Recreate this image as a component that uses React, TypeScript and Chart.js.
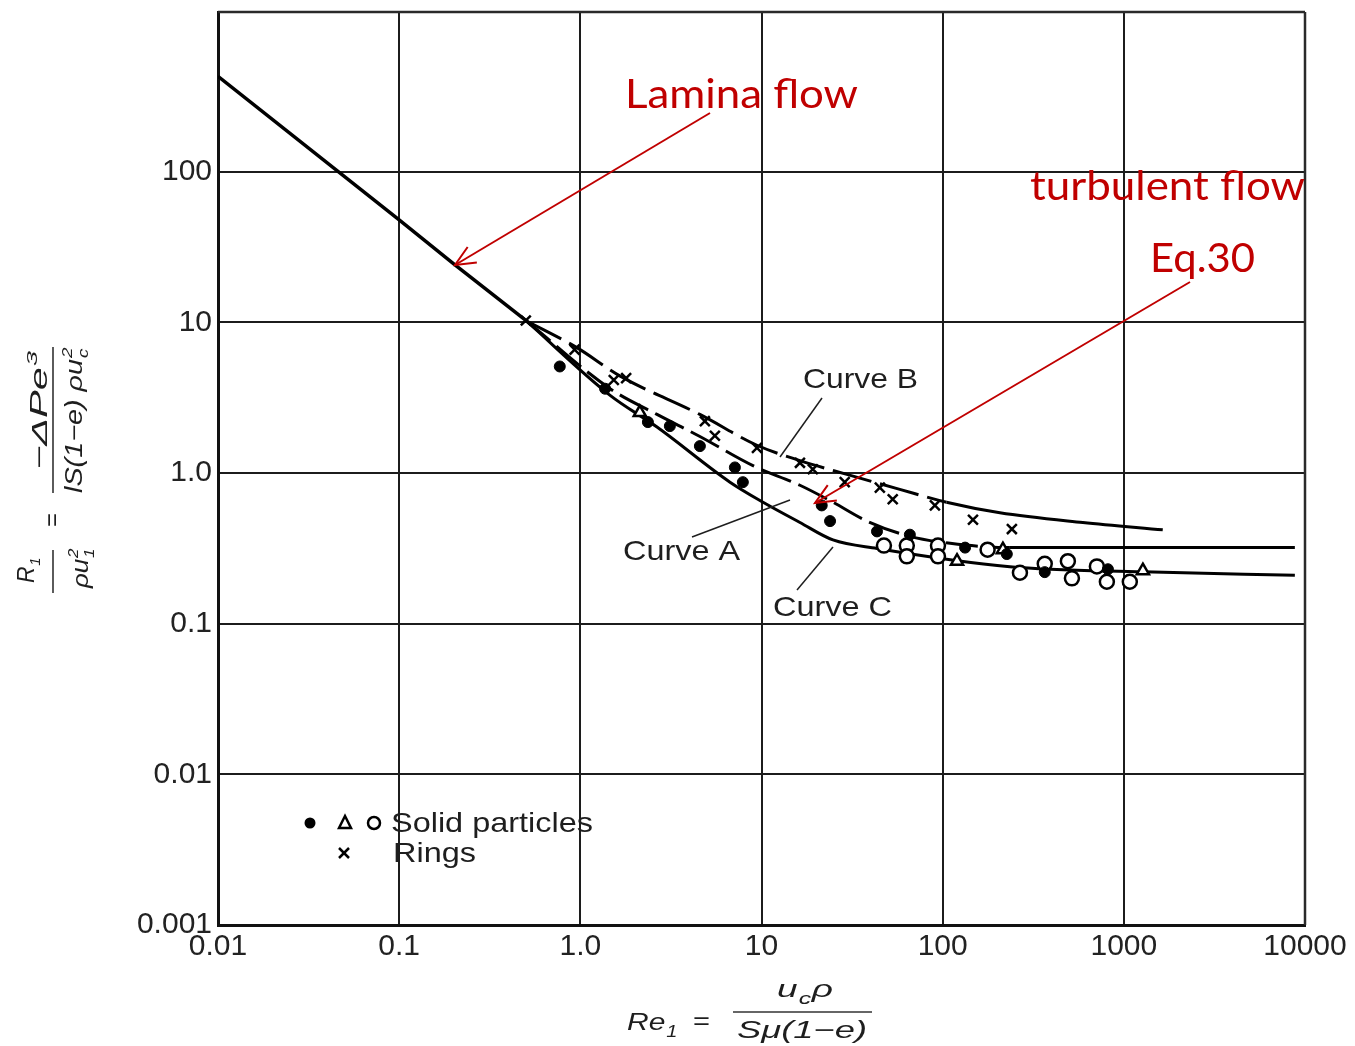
import React, { useEffect, useRef } from 'react';
import { Chart, registerables } from 'chart.js';

Chart.register(...registerables);

// ---------- data ----------
const X_TICKS = [0.01, 0.1, 1, 10, 100, 1000, 10000];
const X_TICK_LABELS = ['0.01', '0.1', '1.0', '10', '100', '1000', '10000'];
const Y_TICKS = [0.001, 0.01, 0.1, 1, 10, 100];
const Y_TICK_LABELS = ['0.001', '0.01', '0.1', '1.0', '10', '100'];

const LAMINAR_X = [0.01, 0.1, 0.2, 0.5];
const LAMINAR_Y = [430, 48, 24.5, 10.3];

const CURVE_A_X = [0.5, 1.46, 2.65, 4.57, 8.97, 16.3, 24.8, 38.2, 65.9, 110, 235, 8790];
const CURVE_A_Y = [10.3, 3.63, 2.45, 1.75, 1.12, 0.83, 0.64, 0.48, 0.38, 0.342, 0.32, 0.32];

const CURVE_B_X = [0.5, 0.957, 1.66, 4.57, 9.44, 16.3, 29.6, 58, 105, 207, 594, 1640];
const CURVE_B_Y = [10.3, 6.8, 4.4, 2.45, 1.53, 1.21, 0.98, 0.78, 0.64, 0.545, 0.47, 0.42];

const CURVE_C_X = [0.5, 1.46, 2.65, 6.7, 10.2, 16.3, 24.8, 43.4, 235, 1274, 8790];
const CURVE_C_Y = [10.3, 3.28, 2.02, 0.87, 0.64, 0.47, 0.36, 0.316, 0.239, 0.221, 0.21];

const SOLID_X = [0.77, 1.37, 2.36, 3.12, 4.57, 7.13, 7.89, 21.5, 23.9, 43.4, 65.9, 133, 226, 366, 817];
const SOLID_Y = [5.1, 3.63, 2.18, 2.05, 1.51, 1.09, 0.87, 0.61, 0.48, 0.41, 0.39, 0.32, 0.29, 0.22, 0.23];

const OPEN_X = [47.4, 63.4, 63.4, 94.2, 94.2, 177, 267, 366, 491, 517, 710, 806, 1079];
const OPEN_Y = [0.33, 0.33, 0.28, 0.33, 0.28, 0.31, 0.218, 0.25, 0.26, 0.2, 0.24, 0.19, 0.19];

const TRI_X = [2.13, 120, 215, 1274];
const TRI_Y = [2.52, 0.26, 0.31, 0.225];

const RING_X = [0.5, 0.93, 1.53, 1.79, 4.87, 5.53, 9.44, 16.3, 19.2, 28.8, 45, 53, 90.6, 147, 241];
const RING_Y = [10.3, 6.6, 4.15, 4.27, 2.21, 1.77, 1.47, 1.17, 1.06, 0.87, 0.8, 0.67, 0.61, 0.49, 0.425];

// ---------- styling ----------
const INK = '#1e1e1e';
const RED = '#C00000';
const SANS = '"Liberation Sans", Arial, Helvetica, sans-serif';

const pts = (xs: number[], ys: number[]) => xs.map((x, i) => ({ x, y: ys[i] }));

type Seg = { t: string; sub?: string; sup?: string };

function drawRich(
  ctx: CanvasRenderingContext2D,
  segs: Seg[],
  o: { x: number; y: number; size: number; width?: number; align?: 'left' | 'center'; rotate?: boolean; italic?: boolean }
) {
  const main = `${o.italic ? 'italic ' : ''}${o.size}px ${SANS}`;
  const small = `${o.italic ? 'italic ' : ''}${Math.round(o.size * 0.65)}px ${SANS}`;
  ctx.save();
  let total = 0;
  const parts = segs.map((s) => {
    ctx.font = main;
    const wt = ctx.measureText(s.t).width;
    ctx.font = small;
    const ws = s.sub ? ctx.measureText(s.sub).width : 0;
    const wp = s.sup ? ctx.measureText(s.sup).width : 0;
    const w = wt + Math.max(ws, wp) + (s.sub || s.sup ? o.size * 0.05 : 0);
    total += w;
    return { s, wt, w };
  });
  const sx = o.width ? o.width / total : 1;
  ctx.translate(o.x, o.y);
  if (o.rotate) ctx.rotate(-Math.PI / 2);
  ctx.scale(sx, 1);
  let cx = o.align === 'center' ? -total / 2 : 0;
  ctx.fillStyle = INK;
  ctx.textBaseline = 'alphabetic';
  ctx.textAlign = 'left';
  for (const p of parts) {
    ctx.font = main;
    ctx.fillText(p.s.t, cx, 0);
    ctx.font = small;
    const bx = cx + p.wt + o.size * 0.03;
    if (p.s.sub) ctx.fillText(p.s.sub, bx, o.size * 0.28);
    if (p.s.sup) ctx.fillText(p.s.sup, bx, -o.size * 0.42);
    cx += p.w;
  }
  ctx.restore();
}

function fitText(ctx: CanvasRenderingContext2D, text: string, x: number, y: number, width: number, font: string, color: string) {
  ctx.save();
  ctx.font = font;
  const w = ctx.measureText(text).width;
  ctx.translate(x, y);
  ctx.scale(width / w, 1);
  ctx.fillStyle = color;
  ctx.textAlign = 'left';
  ctx.textBaseline = 'alphabetic';
  ctx.fillText(text, 0, 0);
  ctx.restore();
}

function line(ctx: CanvasRenderingContext2D, x0: number, y0: number, x1: number, y1: number) {
  ctx.beginPath();
  ctx.moveTo(x0, y0);
  ctx.lineTo(x1, y1);
  ctx.stroke();
}

function arrow(ctx: CanvasRenderingContext2D, x0: number, y0: number, x1: number, y1: number) {
  line(ctx, x0, y0, x1, y1);
  const a = Math.atan2(y1 - y0, x1 - x0);
  const len = 22;
  const s = 0.42;
  ctx.beginPath();
  ctx.moveTo(x1 - len * Math.cos(a - s), y1 - len * Math.sin(a - s));
  ctx.lineTo(x1, y1);
  ctx.lineTo(x1 - len * Math.cos(a + s), y1 - len * Math.sin(a + s));
  ctx.stroke();
}

const framePlugin = {
  id: 'frame',
  beforeDatasetsDraw(chart: any) {
    const { ctx, chartArea: a } = chart;
    ctx.save();
    ctx.strokeStyle = '#2a2a2a';
    ctx.lineWidth = 2.5;
    line(ctx, a.left, a.top, a.right, a.top);
    line(ctx, a.right, a.top, a.right, a.bottom);
    ctx.restore();
  },
};

const annotPlugin = {
  id: 'annot',
  afterDraw(chart: any) {
    const ctx: CanvasRenderingContext2D = chart.ctx;
    ctx.save();
    // curve labels
    const lblFont = `28px ${SANS}`;
    fitText(ctx, 'Curve B', 803, 388, 115, lblFont, INK);
    fitText(ctx, 'Curve A', 623, 560, 117, lblFont, INK);
    fitText(ctx, 'Curve C', 773, 616, 119, lblFont, INK);
    ctx.strokeStyle = INK;
    ctx.lineWidth = 1.5;
    line(ctx, 822, 398, 780, 457);
    line(ctx, 692, 537, 790, 500);
    line(ctx, 797, 590, 833, 547);

    // legend
    fitText(ctx, 'Solid particles', 391, 832, 202, lblFont, INK);
    fitText(ctx, 'Rings', 393, 862, 83, lblFont, INK);
    ctx.fillStyle = '#000';
    ctx.beginPath();
    ctx.arc(310, 823, 5.5, 0, Math.PI * 2);
    ctx.fill();
    ctx.strokeStyle = '#000';
    ctx.lineWidth = 2.5;
    ctx.beginPath();
    ctx.moveTo(345, 816);
    ctx.lineTo(339, 828);
    ctx.lineTo(351, 828);
    ctx.closePath();
    ctx.stroke();
    ctx.beginPath();
    ctx.arc(374, 823, 6, 0, Math.PI * 2);
    ctx.stroke();
    line(ctx, 339, 848, 349, 858);
    line(ctx, 349, 848, 339, 858);

    // x axis title
    drawRich(ctx, [{ t: 'Re', sub: '1' }], { x: 627, y: 1030, size: 24, width: 51, italic: true });
    drawRich(ctx, [{ t: '=' }], { x: 693, y: 1029, size: 24, width: 17 });
    drawRich(ctx, [{ t: 'u', sub: 'c' }, { t: 'ρ' }], { x: 805, y: 997, size: 24, width: 56, align: 'center', italic: true });
    drawRich(ctx, [{ t: 'Sμ(1−e)' }], { x: 802, y: 1038, size: 24, width: 130, align: 'center', italic: true });
    ctx.strokeStyle = '#333';
    ctx.lineWidth = 1.6;
    line(ctx, 733, 1012, 872, 1012);

    // y axis title (rotated)
    drawRich(ctx, [{ t: 'R', sub: '1' }], { x: 34, y: 570, size: 23, width: 26, align: 'center', rotate: true, italic: true });
    drawRich(ctx, [{ t: 'ρu', sub: '1', sup: '2' }], { x: 88, y: 568, size: 23, width: 40, align: 'center', rotate: true, italic: true });
    drawRich(ctx, [{ t: '=' }], { x: 60, y: 520, size: 23, width: 14, align: 'center', rotate: true });
    drawRich(ctx, [{ t: '−ΔPe', sup: '3' }], { x: 47, y: 410, size: 23, width: 120, align: 'center', rotate: true, italic: true });
    drawRich(ctx, [{ t: 'lS(1−e) ρu', sub: 'c', sup: '2' }], { x: 82, y: 420, size: 23, width: 146, align: 'center', rotate: true, italic: true });
    line(ctx, 53, 347, 53, 493);
    line(ctx, 53, 550, 53, 593);

    // red annotations
    const redFont = `40px Lato, "Open Sans", sans-serif`;
    fitText(ctx, 'Lamina flow', 625, 108, 233, redFont, RED);
    fitText(ctx, 'turbulent flow', 1030, 200, 275, redFont, RED);
    fitText(ctx, 'Eq.30', 1150, 272, 105, redFont, RED);
    ctx.strokeStyle = RED;
    ctx.lineWidth = 2;
    arrow(ctx, 710, 113, 455, 265);
    arrow(ctx, 1190, 282, 815, 503);
    ctx.restore();
  },
};

export default function App() {
  const ref = useRef<HTMLCanvasElement | null>(null);

  useEffect(() => {
    if (!ref.current) return;
    const tickFont = { family: SANS, size: 30 };
    const lineBase = {
      showLine: true,
      pointRadius: 0,
      borderColor: '#000',
      backgroundColor: '#000',
      borderWidth: 3,
      fill: false,
      cubicInterpolationMode: 'monotone' as const,
      order: 2,
    };
    const chart = new Chart(ref.current, {
      type: 'scatter',
      data: {
        datasets: [
          { label: 'Solid particles (filled)', data: pts(SOLID_X, SOLID_Y), pointStyle: 'circle', pointRadius: 5.5, backgroundColor: '#000', borderColor: '#000', borderWidth: 1, order: 0 },
          { label: 'Solid particles (open)', data: pts(OPEN_X, OPEN_Y), pointStyle: 'circle', pointRadius: 7, backgroundColor: '#fff', borderColor: '#000', borderWidth: 2.5, order: 0 },
          { label: 'Solid particles (triangle)', data: pts(TRI_X, TRI_Y), pointStyle: 'triangle', pointRadius: 7, backgroundColor: '#fff', borderColor: '#000', borderWidth: 2.5, order: 0 },
          { label: 'Rings', data: pts(RING_X, RING_Y), pointStyle: 'crossRot', pointRadius: 7, backgroundColor: '#000', borderColor: '#000', borderWidth: 2.5, order: 0 },
          { ...lineBase, label: 'Laminar', data: pts(LAMINAR_X, LAMINAR_Y), borderWidth: 3.5, cubicInterpolationMode: 'default', tension: 0 },
          {
            ...lineBase,
            label: 'Curve A',
            data: pts(CURVE_A_X, CURVE_A_Y),
            segment: { borderDash: (c: any) => (c.p0.parsed.x >= 230 ? [] : [32, 8]) },
          },
          {
            ...lineBase,
            label: 'Curve B',
            data: pts(CURVE_B_X, CURVE_B_Y),
            segment: { borderDash: (c: any) => (c.p0.parsed.x >= 100 ? [] : [40, 9]) },
          },
          { ...lineBase, label: 'Curve C', data: pts(CURVE_C_X, CURVE_C_Y) },
        ] as any,
      },
      options: {
        animation: false,
        responsive: false,
        devicePixelRatio: 1,
        layout: { padding: { left: 0, right: 50, top: 12, bottom: 0 } },
        plugins: { legend: { display: false }, tooltip: { enabled: false } },
        scales: {
          x: {
            type: 'logarithmic',
            position: 'bottom',
            min: 0.01,
            max: 10000,
            afterBuildTicks: (s: any) => {
              s.ticks = X_TICKS.map((v) => ({ value: v }));
            },
            afterFit: (s: any) => {
              s.height = 121;
              s.paddingLeft = 0;
              s.paddingRight = 0;
            },
            ticks: {
              callback: (_v: any, i: number) => X_TICK_LABELS[i],
              font: tickFont,
              color: '#222',
              padding: 4,
              maxRotation: 0,
              autoSkip: false,
            },
            grid: { color: '#1c1c1c', lineWidth: 2, drawTicks: false },
            border: { display: true, color: '#111', width: 3 },
          },
          y: {
            type: 'logarithmic',
            position: 'left',
            min: 0.001,
            max: 1150,
            afterBuildTicks: (s: any) => {
              s.ticks = Y_TICKS.map((v) => ({ value: v }));
            },
            afterFit: (s: any) => {
              s.width = 218;
              s.paddingTop = 0;
              s.paddingBottom = 0;
            },
            ticks: {
              callback: (_v: any, i: number) => Y_TICK_LABELS[i],
              font: tickFont,
              color: '#222',
              padding: 6,
              autoSkip: false,
            },
            grid: { color: '#1c1c1c', lineWidth: 2, drawTicks: false },
            border: { display: true, color: '#111', width: 3 },
          },
        },
      } as any,
      plugins: [framePlugin, annotPlugin],
    });
    return () => chart.destroy();
  }, []);

  return (
    <div style={{ position: 'absolute', left: 0, top: 0, width: 1355, height: 1046, background: '#fff' }}>
      <canvas ref={ref} width={1355} height={1046} style={{ display: 'block' }} />
    </div>
  );
}
